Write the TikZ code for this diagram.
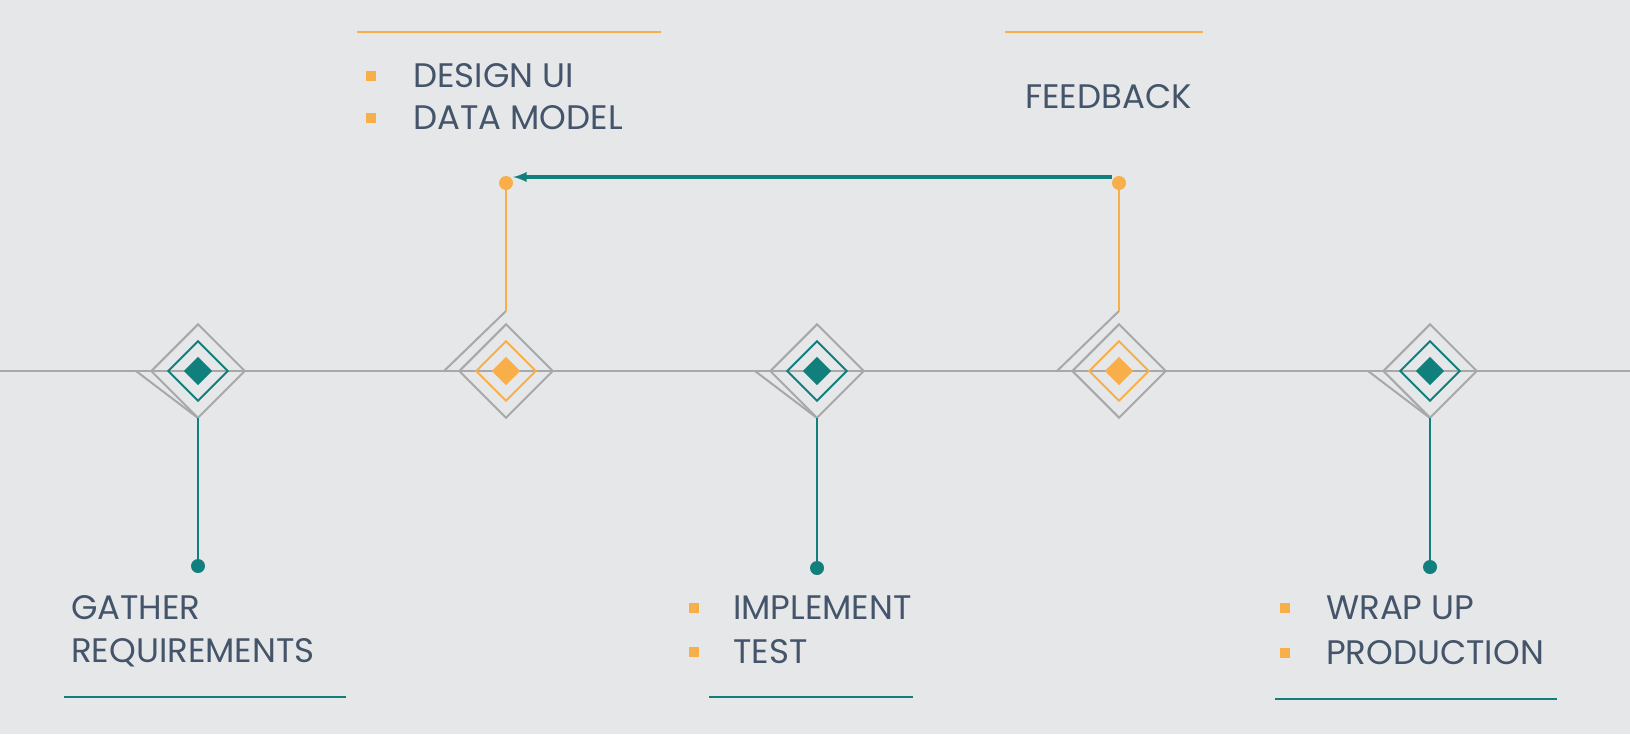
\documentclass[tikz,border=0pt]{standalone}
\usepackage{fontspec}
\setmainfont{Poppins}
\usetikzlibrary{positioning}
\definecolor{bg}{HTML}{E6E7E9}
\definecolor{teal1}{HTML}{117F7B}
\definecolor{orng}{HTML}{F8AF49}
\definecolor{ink}{HTML}{44546A}
\definecolor{grayline}{HTML}{A8A8AA}
\begin{document}
\begin{tikzpicture}[x=1pt,y=-1pt,
	outer/.style={draw=grayline,line width=2pt,rotate=45,minimum size=66pt,inner sep=0pt},
	mid/.style={line width=2pt,rotate=45,minimum size=42pt,inner sep=0pt},
	core/.style={rotate=45,minimum size=20pt,inner sep=0pt},
	dot/.style={circle,minimum size=14pt,inner sep=0pt},
	lbl/.style={text=ink,font=\fontsize{34}{40}\selectfont,anchor=west,inner sep=0pt},
	bul/.style={fill=orng,minimum size=10pt,inner sep=0pt}]
	\fill[bg] (0,0) rectangle (1630,734);
	\useasboundingbox (0,0) rectangle (1630,734);

	%timeline
	\coordinate (l0) at (0,371);
	\coordinate (l1) at (1630,371);
	\draw[grayline,line width=2pt] (l0) -- (l1);

	%diamonds
	\node[outer] (d1) at (198,371) {};
	\node[outer] (d2) at (506,371) {};
	\node[outer] (d3) at (817,371) {};
	\node[outer] (d4) at (1119,371) {};
	\node[outer] (d5) at (1430,371) {};
	\node[mid,draw=teal1] at (d1) {};
	\node[mid,draw=orng] at (d2) {};
	\node[mid,draw=teal1] at (d3) {};
	\node[mid,draw=orng] at (d4) {};
	\node[mid,draw=teal1] at (d5) {};
	\node[core,fill=teal1] at (d1) {};
	\node[core,fill=orng] at (d2) {};
	\node[core,fill=teal1] at (d3) {};
	\node[core,fill=orng] at (d4) {};
	\node[core,fill=teal1] at (d5) {};

	%offset edges
	\draw[grayline,line width=2pt] ([xshift=-62pt]d1.center) -- ([yshift=-47pt]d1.center);
	\draw[grayline,line width=2pt] ([xshift=-62pt]d2.center) -- ([yshift=60pt]d2.center);
	\draw[grayline,line width=2pt] ([xshift=-62pt]d3.center) -- ([yshift=-47pt]d3.center);
	\draw[grayline,line width=2pt] ([xshift=-62pt]d4.center) -- ([yshift=60pt]d4.center);
	\draw[grayline,line width=2pt] ([xshift=-62pt]d5.center) -- ([yshift=-47pt]d5.center);

	%stems
	\node[dot,fill=teal1] (p1) at (198,566) {};
	\node[dot,fill=orng] (p2) at (506,183) {};
	\node[dot,fill=teal1] (p3) at (817,568) {};
	\node[dot,fill=orng] (p4) at (1119,183) {};
	\node[dot,fill=teal1] (p5) at (1430,567) {};
	\draw[teal1,line width=2pt] ([yshift=-47pt]d1.center) -- (p1);
	\draw[orng,line width=2pt] ([yshift=60pt]d2.center) -- (p2);
	\draw[teal1,line width=2pt] ([yshift=-47pt]d3.center) -- (p3);
	\draw[orng,line width=2pt] ([yshift=60pt]d4.center) -- (p4);
	\draw[teal1,line width=2pt] ([yshift=-47pt]d5.center) -- (p5);

	%feedback arrow
	\draw[teal1,line width=3.5pt,-latex] ([yshift=6pt]p4.west) -- ([yshift=6pt]p2.east);

	%labels
	\node[lbl] (t1) at (71,608) {GATHER};
	\node[lbl] (t2) at (71,653) {REQUIREMENTS};
	\node[bul] (b1) at (371,76) {};
	\node[lbl] (t3) at (413,76) {DESIGN UI};
	\node[bul] (b2) at (371,118) {};
	\node[lbl] (t4) at (413,118) {DATA MODEL};
	\node[lbl] (t5) at (1025,97) {FEEDBACK};
	\node[bul] (b3) at (694,608) {};
	\node[lbl] (t6) at (733,608) {IMPLEMENT};
	\node[bul] (b4) at (694,652) {};
	\node[lbl] (t7) at (733,652) {TEST};
	\node[bul] (b5) at (1285,608) {};
	\node[lbl] (t8) at (1326,608) {WRAP UP};
	\node[bul] (b6) at (1285,653) {};
	\node[lbl] (t9) at (1326,653) {PRODUCTION};

	%rules
	\coordinate (r1a) at (64,697); \coordinate (r1b) at (346,697);
	\coordinate (r2a) at (709,697); \coordinate (r2b) at (913,697);
	\coordinate (r3a) at (1275,699); \coordinate (r3b) at (1557,699);
	\coordinate (r4a) at (357,32); \coordinate (r4b) at (661,32);
	\coordinate (r5a) at (1005,32); \coordinate (r5b) at (1203,32);
	\draw[teal1,line width=2pt] (r1a) -- (r1b);
	\draw[teal1,line width=2pt] (r2a) -- (r2b);
	\draw[teal1,line width=2pt] (r3a) -- (r3b);
	\draw[orng,line width=2pt] (r4a) -- (r4b);
	\draw[orng,line width=2pt] (r5a) -- (r5b);
\end{tikzpicture}
\end{document}
